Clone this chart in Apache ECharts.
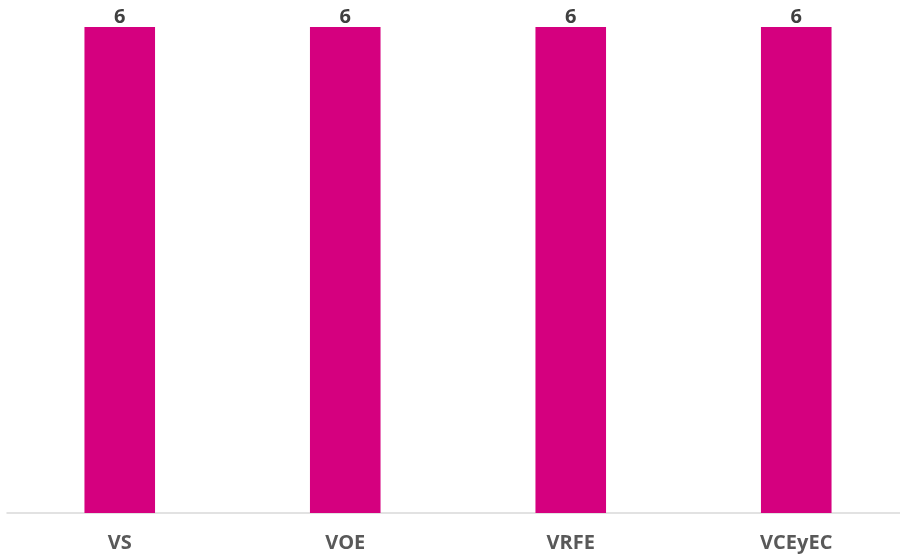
<!DOCTYPE html>
<html><head><meta charset="utf-8">
<script src="https://cdn.jsdelivr.net/npm/echarts@6/dist/echarts.min.js"></script>
<style>html,body{margin:0;padding:0;background:#fff;overflow:hidden}#c{width:910px;height:556px}</style>
</head><body><div id="c"></div>
<script>
var categories = ['VS', 'VOE', 'VRFE', 'VCEyEC'];
var values = [6, 6, 6, 6];

var chart = echarts.init(document.getElementById('c'));
chart.setOption({
  animation: false,
  grid: { left: 7, right: 1, top: 27, bottom: 43, containLabel: false, outerBoundsMode: 'none' },
  xAxis: {
    type: 'category',
    data: categories,
    axisLine: { lineStyle: { color: '#D9D9D9', width: 1.5 } },
    axisTick: { show: false },
    axisLabel: { color: '#595959', fontFamily: 'Open Sans', fontWeight: 'bold', fontSize: 20, margin: 20 }
  },
  yAxis: {
    type: 'value', min: 0, max: 6,
    show: false, splitLine: { show: false }
  },
  series: [{
    type: 'bar',
    data: values,
    barWidth: '31.3%',
    itemStyle: { color: '#D5007F' },
    label: { show: true, position: 'top', distance: 0, color: '#404040', fontFamily: 'Open Sans', fontWeight: 'bold', fontSize: 20 }
  }]
});
</script></body></html>
